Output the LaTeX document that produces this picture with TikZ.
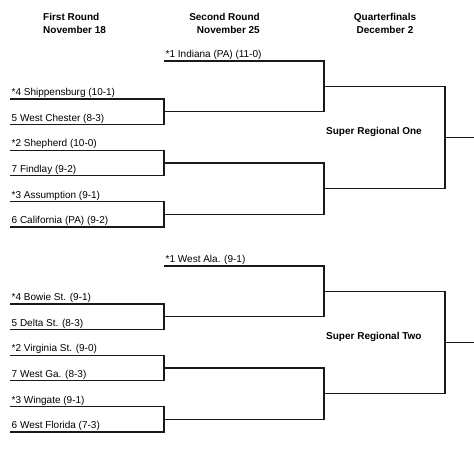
\documentclass[tikz,border=0pt]{standalone}
\usepackage{fontspec}
\setmainfont{Liberation Sans}
\usetikzlibrary{positioning,calc}
\definecolor{brkline}{gray}{0.1}
\tikzset{
  fig/.style={font=\fontsize{10}{12}\selectfont},
  hdr/.style={font=\fontsize{10}{12.6}\selectfont\bfseries,inner sep=0pt},
  team/.style={anchor=base west,inner sep=0pt,font=\fontsize{10}{12}\selectfont},
  region/.style={anchor=base west,inner sep=0pt,font=\fontsize{10}{12}\selectfont\bfseries},
  ln/.style={draw=brkline,line width=1.3pt,line join=miter},
}

\begin{document}
\begin{tikzpicture}[fig,x=1pt,y=-1pt]
\useasboundingbox (0,0) rectangle (474,458);

\def\xA{10}
\def\xB{164}
\def\xC{324}
\def\xD{445}
\def\xE{474}

% ------------------------------------------------ headers
\node[hdr,anchor=north west,align=left] (h1) at (43,13) {First Round\\November 18};
\node[hdr,anchor=north east,align=right] (h2) at (260,13) {Second Round\\November 25};
\node[hdr,anchor=north,align=center] (h3) at (385,13) {Quarterfinals\\December 2};

% ------------------------------------------------ first round
\foreach \y/\t [count=\n from 1] in {%
  99/{*4 Shippensburg (10-1)}, 124.6/{5 West Chester (8-3)},
  150.2/{*2 Shepherd (10-0)}, 175.8/{7 Findlay (9-2)},
  201.4/{*3 Assumption (9-1)}, 227/{6 California (PA) (9-2)},
  304/{*4 Bowie St. (9-1)}, 329.6/{5 Delta St. (8-3)},
  355.2/{*2 Virginia St. (9-0)}, 380.8/{7 West Ga. (8-3)},
  406.4/{*3 Wingate (9-1)}, 432/{6 West Florida (7-3)}}
  {\coordinate (a\n) at (\xA,\y);
   \coordinate (b\n) at (\xB,\y);
   \node[team] (t\n) at (\xA+1.5,\y-3.3) {\t};}

\foreach \i/\j [count=\k from 1] in {1/2,3/4,5/6,7/8,9/10,11/12}
  {\draw[ln] (a\i) -- (b\i) -- (b\j) -- (a\j);
   \coordinate (w\k) at ($(b\i)!.5!(b\j)$);
   \coordinate (x\k) at ($(w\k)+(\xC-\xB,0)$);}

% ------------------------------------------------ second round : byes
\node[team] (bye1) at (\xB+1.5,61-3.3) {*1 Indiana (PA) (11-0)};
\node[team] (bye2) at (\xB+1.5,266-3.3) {*1 West Ala. (9-1)};

% ------------------------------------------------ second round + quarterfinals
\foreach \r/\yo/\p/\q/\s in {1/0/1/2/3, 2/205/4/5/6}
  {\coordinate (c\r) at (\xB,61+\yo);
   \coordinate (d\r) at (\xC,61+\yo);
   \draw[ln] (c\r) -- (d\r) -- (x\p) -- (w\p);
   \draw[ln] (w\q) -- (x\q) -- (x\s) -- (w\s);
   \coordinate (f\r) at ($(d\r)!.5!(x\p)$);
   \coordinate (g\r) at ($(x\q)!.5!(x\s)$);
   \coordinate (fe\r) at ($(f\r)+(\xD-\xC,0)$);
   \coordinate (ge\r) at ($(g\r)+(\xD-\xC,0)$);
   \draw[ln] (f\r) -- (fe\r) -- (ge\r) -- (g\r);
   \coordinate (z\r) at ($(fe\r)!.5!(ge\r)$);
   \coordinate (ze\r) at ($(z\r)+(\xE-\xD,0)$);
   \draw[ln] (z\r) -- (ze\r);}

\node[region] (sr1) at (326,134.6) {Super Regional One};
\node[region] (sr2) at (326,339.6) {Super Regional Two};

\end{tikzpicture}
\end{document}
